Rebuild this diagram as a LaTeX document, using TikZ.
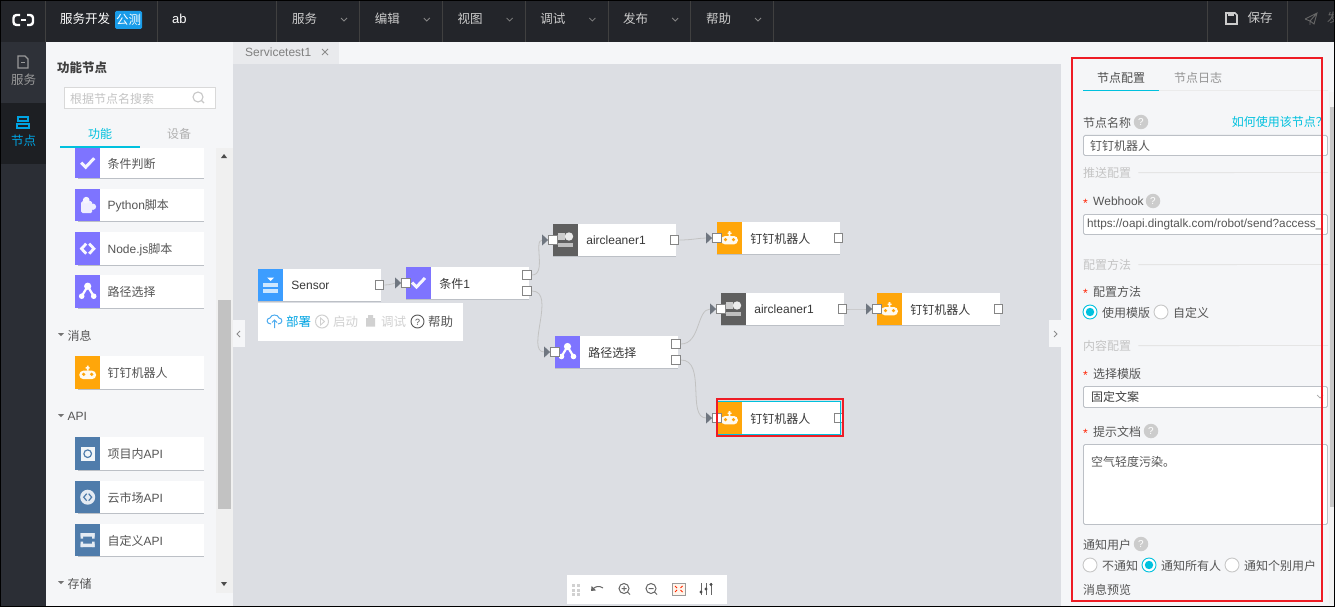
\documentclass[tikz,border=0pt]{standalone}
\usepackage{fontspec}
\setmainfont{Liberation Sans}
\newfontfamily\cjk{Noto Sans CJK SC}
\newcommand{\cn}[1]{{\cjk #1}}
\usetikzlibrary{positioning,arrows.meta,shapes.geometric}

\definecolor{barbg}{HTML}{23252A}
\definecolor{sidebg}{HTML}{2B2E35}
\definecolor{sidetab}{HTML}{2E3138}
\definecolor{sideon}{HTML}{1D1F23}
\definecolor{panelbg}{HTML}{F5F6F8}
\definecolor{canvasbg}{HTML}{DCDEE3}
\definecolor{tabbg}{HTML}{E9EAED}
\definecolor{accent}{HTML}{00C1DE}
\definecolor{textgrey}{HTML}{555555}
\definecolor{hintgrey}{HTML}{C4C4C4}
\definecolor{edgegrey}{HTML}{BCC0C6}
\definecolor{purple}{HTML}{7E74FF}
\definecolor{orangeic}{HTML}{FFA60A}
\definecolor{devgrey}{HTML}{5F5F5F}
\definecolor{bluesens}{HTML}{3C9DFF}
\definecolor{apiblue}{HTML}{4F7CAB}
\definecolor{redbox}{HTML}{EE1C25}
\definecolor{tipgrey}{HTML}{6F7680}

\tikzset{
    txt/.style={font=\fontsize{12}{14}\selectfont, text=textgrey, inner sep=0pt, anchor=west, yshift=-0.6pt},
    hint/.style={txt, text=hintgrey},
    menuitem/.style={font=\fontsize{12.5}{14}\selectfont, text=white!80!black, inner sep=0pt},
    flowbody/.style={fill=white, minimum width=123pt, minimum height=32pt, inner sep=0pt},
    flowicon/.style={minimum width=25pt, minimum height=32pt, inner sep=0pt, anchor=north west},
    listbody/.style={fill=white, minimum width=129pt, inner sep=0pt, anchor=north west},
    port/.style={draw=black!48, line width=1pt, fill=white, minimum size=8.5pt, inner sep=0pt},
    wire/.style={draw=black!24, line width=0.8pt, -{Triangle[length=6pt,width=11pt,color=tipgrey]}},
    underedge/.style={draw=edgegrey, line width=1pt},
    field/.style={draw=edgegrey, fill=white, rounded corners=1.5pt, line width=0.9pt, inner sep=0pt, anchor=north west},
    sectline/.style={draw=black!10, line width=0.9pt},
    helpmark/.style={circle, fill=black!20, text=white, minimum size=14.5pt, inner sep=0pt, font=\fontsize{10}{12}\selectfont},
    radio/.style={circle, draw=black!22, fill=white, minimum size=14pt, inner sep=0pt, line width=0.9pt},
    radioon/.style={radio, draw=accent},
    star/.style={font=\fontsize{12}{14}\selectfont, text=red!75!orange, inner sep=0pt},
    chev/.style={draw=white!52!black, line width=0.8pt},
    tool/.style={draw=black!60, line width=1pt},
    % icons inside the coloured squares
    checkic/.pic={\draw[white!92!purple, line width=3pt] (-6.5,-0.5) -- (-2,4) -- (6.5,-5);},
    pyic/.pic={
        \fill[white!88!purple, rounded corners=1.5pt] (-6.5,-4) rectangle (4.5,8);
        \fill[white!92!purple] (-1.5,-5) circle (3.4);
        \fill[white!88!purple] (5.2,1.5) circle (3.2);},
    nodeic/.pic={\draw[white!95!purple, line width=2.8pt] (-1.5,-5) -- (-6.2,0) -- (-1.5,5) (1.5,-5) -- (6.2,0) -- (1.5,5);},
    routeic/.pic={
        \draw[white, line width=2.2pt] (-6,4.5) -- (0,-5.5) -- (6,4.5);
        \fill[white] (0,-5.5) circle (3.6) (-6,4.5) circle (2.8) (6,4.5) circle (2.8);},
    robotic/.pic={
        \fill[white!94!orangeic, rounded corners=4pt] (-8.4,-2) rectangle (8.4,6.4);
        \fill[white!94!orangeic] (-0.8,-7) rectangle (0.8,-2) (-2,-5.5) rectangle (2,-4.2);
        \fill[orangeic] (-4,1.6) circle (1.8) (4,1.6) circle (1.8);},
    devic/.pic={
        \fill[white!80!black] (-7.5,-7) rectangle (-1,0);
        \fill[white!92!black] (3.5,-3.5) circle (4.2);
        \fill[white!75!black] (-7.5,2.5) rectangle (7.5,7);},
    sensic/.pic={
        \fill[white] (-3.5,-7.5) -- (3.5,-7.5) -- (0,-4) -- cycle;
        \fill[white!75!bluesens] (-7.5,-2.5) rectangle (7.5,2);
        \fill[white!75!bluesens] (-7.5,3.5) rectangle (7.5,8);},
    apiaic/.pic={
        \fill[white!92!apiblue] (-7,-7) rectangle (7,7);
        \draw[apiblue, line width=1.2pt] (0,0) circle (3.8);},
    apibic/.pic={
        \fill[white!85!apiblue] (0,0) circle (7.5);
        \draw[apiblue, line width=1.2pt] (-1,-3.5) -- (-4,0) -- (-1,3.5) (1,-3.5) -- (4,0) -- (1,3.5);},
    apicic/.pic={
        \fill[white!85!apiblue] (-7,-7) rectangle (7,-3.5) (-7,3.5) rectangle (7,7);
        \fill[white!85!apiblue] (-7,-7) rectangle (-4.5,-1.5) (4.5,-7) rectangle (7,-1.5);
        \fill[white!85!apiblue] (-7,1.5) rectangle (-4.5,7) (4.5,1.5) rectangle (7,7);}
}

\begin{document}
\begin{tikzpicture}[x=1pt, y=-1pt]
\useasboundingbox (0,0) rectangle (1335,607);

% Backgrounds
\fill[canvasbg] (233,42) rectangle (1061,607);
\fill[panelbg] (339,42) rectangle (1061,64);
\fill[tabbg] (233,42) rectangle (339,64);
\fill[panelbg] (46,42) rectangle (233,607);
\fill[panelbg] (1061,42) rectangle (1335,607);
\fill[sidebg] (0,42) rectangle (46,607);
\fill[sidetab] (0,42) rectangle (46,103);
\fill[sideon] (0,103) rectangle (46,164);
\fill[barbg] (0,0) rectangle (1335,42);

% Top bar
\draw[white, line width=2.4pt, rounded corners=3pt] (20,15) -- (13.5,15) -- (13.5,25) -- (20,25);
\draw[white, line width=2.4pt, rounded corners=3pt] (27,15) -- (33,15) -- (33,25) -- (27,25);
\draw[white, line width=1.4pt] (21,20) -- (26,20);
\node[menuitem, text=white, anchor=west] (appname) at (60,18.5) {\cn{服务开发}};
\node[fill=accent!75!blue!90, rounded corners=1.5pt, text=white, minimum width=27pt, minimum height=18pt, inner sep=0pt, font=\fontsize{12.5}{14}\selectfont] (badge) at (128.5,20) {\cn{公测}};
\node[txt, text=white, font=\fontsize{13}{14}\selectfont] (project) at (172,18.5) {ab};
\foreach \sx in {45,157,276,1207,1287} {
    \draw[black!75, line width=0.8pt] (\sx,0) -- (\sx,42);
}
\foreach \lab [count=\i from 0] in {服务,编辑,视图,调试,发布,帮助} {
    \pgfmathsetmacro{\mx}{304.5+82.8*\i}
    \node[menuitem] (menu\i) at (\mx,19) {\cn{\lab}};
    \draw[chev] (\mx+36.5,18) -- (\mx+39.5,21) -- (\mx+42.5,18);
    \draw[black!75, line width=0.8pt] (\mx+55,0) -- (\mx+55,42);
}
% Save and publish
\draw[white!80!black, line width=1.6pt] (1226,13) -- (1235,13) -- (1237,15) -- (1237,24) -- (1226,24) -- cycle;
\fill[white!80!black] (1228,13) rectangle (1234,16.5);
\node[menuitem] (save) at (1260,18) {\cn{保存}};
\draw[black!60, line width=0.9pt] (1305,19) -- (1317,13) -- (1314,24) -- (1310,21) -- (1305,19) (1310,21) -- (1317,13) (1310,21) -- (1310,25);
\node[menuitem, text=black!60, anchor=west] (publish) at (1327,18) {\cn{发}};

% Side rail
\draw[white!60!black, line width=1.2pt] (18,56) -- (25,56) -- (28,59) -- (28,68) -- (18,68) -- cycle;
\draw[white!60!black, line width=1pt] (21,63) -- (25,63);
\node[menuitem, text=white!60!black] (railsvc) at (23.5,80) {\cn{服务}};
\draw[accent!85!blue, line width=1.5pt] (18,117) rectangle (28,121) (17,124) rectangle (29,128);
\node[menuitem, text=accent!85!blue] (railnode) at (23.5,141) {\cn{节点}};

% Function panel
\node[txt, text=black!75, font=\fontsize{12.5}{14}\bfseries\selectfont] (paneltitle) at (57,67) {\cn{功能节点}};
\node[draw=black!15, fill=white, line width=1pt, minimum width=151pt, minimum height=21pt, anchor=north west] (search) at (63.5,87) {};
\node[hint, anchor=west] (searchtxt) at (70,98) {\cn{根据节点名搜索}};
\draw[black!22, line width=1.1pt] (198,97) circle (5) (201.5,100.5) -- (204,103);
\node[txt, text=accent] (tabfunc) at (88,133) {\cn{功能}};
\node[txt, text=hintgrey!90!black] (tabdev) at (167,133) {\cn{设备}};
\fill[accent] (60,146) rectangle (140,148);

% Function list
\foreach \id/\yy/\hh/\col/\ic/\txtb in {
    a/148/30/purple/checkic/{\cn{条件判断}},
    b/189/32/purple/pyic/{Python\cn{脚本}},
    c/232/33/purple/nodeic/{Node.js\cn{脚本}},
    d/275/33/purple/routeic/{\cn{路径选择}},
    e/356/33/orangeic/robotic/{\cn{钉钉机器人}},
    f/437/33/apiblue/apiaic/{\cn{项目内}API},
    g/481/32/apiblue/apibic/{\cn{云市场}API},
    h/524/32/apiblue/apicic/{\cn{自定义}API}} {
    \node[listbody, minimum height=\hh pt] (li\id) at (75,\yy) {};
    \node[flowicon, fill=\col, minimum height=\hh pt] (lc\id) at (li\id.north west) {};
    \pic at (lc\id) {\ic};
    \node[txt, right=7pt of lc\id] (lt\id) {\txtb};
    \draw[underedge] ([xshift=3pt]lc\id.south west) -- (li\id.south east);
}
\foreach \id/\yy/\lab in {msg/335/{\cn{消息}}, api/416/{API}, sto/583/{\cn{存储}}} {
    \fill[black!55] (58,\yy-2) -- (64,\yy-2) -- (61,\yy+1) -- cycle;
    \node[txt] (sec\id) at (67.5,\yy) {\lab};
}

% Scrollbar
\fill[black!6] (216,148) rectangle (233,593);
\fill[black!24] (218,300) rectangle (231,509);
\fill[black!70] (221,158) -- (227,158) -- (224,154) -- cycle;
\fill[black!70] (221,582) -- (227,582) -- (224,586) -- cycle;

% Document tab
\node[txt, text=black!50] (doctab) at (245,51.5) {Servicetest1};
\draw[black!45, line width=0.8pt] (322,49) -- (328,55) (328,49) -- (322,55);

% Side handles
\fill[panelbg] (233,320) rectangle (245,347);
\draw[black!45, line width=0.8pt] (240,331) -- (237,334) -- (240,337);
\fill[panelbg] (1049,320) rectangle (1061,347);
\draw[black!45, line width=0.8pt] (1054,331) -- (1057,334) -- (1054,337);

% Flow nodes
\foreach \id/\x/\y/\col/\ic/\txtb in {
    sens/258/269/bluesens/sensic/{Sensor},
    cond/406/267/purple/checkic/{\cn{条件}1},
    aira/553/224/devgrey/devic/{aircleaner1},
    dinga/717/222/orangeic/robotic/{\cn{钉钉机器人}},
    route/555/336/purple/routeic/{\cn{路径选择}},
    airb/721/293/devgrey/devic/{aircleaner1},
    dingb/877/293/orangeic/robotic/{\cn{钉钉机器人}},
    dingc/717/402/orangeic/robotic/{\cn{钉钉机器人}}} {
    \node[flowbody] (\id) at (\x+61.5,\y+16) {};
    \node[flowicon, fill=\col] (\id-ic) at (\id.north west) {};
    \pic at (\id-ic) {\ic};
    \node[txt, text=black!78, right=8pt of \id-ic] (\id-txt) {\txtb};
    \draw[underedge] (\id.south west) -- (\id.south east);
}

% Ports
\foreach \id in {cond,aira,dinga,route,airb,dingb,dingc} {
    \node[port] (\id-in) at (\id.west) {};
}
\foreach \id in {sens,aira,dinga,airb,dingb,dingc} {
    \node[port] (\id-out) at ([xshift=-1.5pt]\id.east) {};
}
\node[port] (cond-y) at ([xshift=-2pt,yshift=8pt]cond.east) {};
\node[port] (cond-n) at ([xshift=-2pt,yshift=-8pt]cond.east) {};
\node[port] (route-y) at ([xshift=-2pt,yshift=8pt]route.east) {};
\node[port] (route-n) at ([xshift=-2pt,yshift=-8pt]route.east) {};

% Connectors
\draw[wire] (sens-out) to[out=0, in=180] (cond-in);
\draw[wire] (cond-y) to[out=0, in=180] (aira-in);
\draw[wire] (cond-n) to[out=0, in=180] (route-in);
\draw[wire] (aira-out) to[out=0, in=180] (dinga-in);
\draw[wire] (route-y) to[out=0, in=180] (airb-in);
\draw[wire] (route-n) to[out=0, in=180] (dingc-in);
\draw[wire] (airb-out) to[out=0, in=180] (dingb-in);

% Selected node
\node[draw=accent, line width=1pt, minimum width=124pt, minimum height=33pt, inner sep=0pt] (selbox) at (dingc) {};
\node[draw=redbox, line width=2pt, minimum width=126pt, minimum height=36.5pt, inner sep=0pt] (redsel) at (780,417.5) {};

% Actions under the sensor
\node[fill=white, minimum width=205pt, minimum height=38pt, inner sep=0pt, anchor=north west] (actions) at (258,303) {};
\draw[accent!70!blue!70, line width=1pt] (271,324) .. controls (266,324) and (266,318) .. (270,318) .. controls (271,314) and (278,314) .. (279,318) .. controls (283,318) and (283,324) .. (278,324);
\draw[accent!70!blue!70, line width=1pt] (274.5,328) -- (274.5,320) (272,322.5) -- (274.5,320) -- (277,322.5);
\node[txt, text=accent!85!blue, font=\fontsize{12.5}{14}\selectfont] (deploy) at (286,321.5) {\cn{部署}};
\draw[black!18, line width=1pt] (322,321.5) circle (6.5);
\draw[black!18, line width=0.9pt] (320.5,318) -- (324.5,321.5) -- (320.5,325) -- cycle;
\node[hint, text=black!18, font=\fontsize{12.5}{14}\selectfont] (startact) at (333,321.5) {\cn{启动}};
\fill[black!18] (366,318) rectangle (375,326.5) (368,315) rectangle (373,318);
\node[hint, text=black!18, font=\fontsize{12.5}{14}\selectfont] (debugact) at (381,321.5) {\cn{调试}};
\draw[black!65, line width=0.9pt] (417.5,321.5) circle (6.5);
\node[txt, text=black!65, anchor=center, font=\fontsize{9}{10}\selectfont] (helpq) at (417.5,321.5) {?};
\node[txt, font=\fontsize{12.5}{14}\selectfont] (helpact) at (428,321.5) {\cn{帮助}};

% Canvas toolbar
\node[fill=white, minimum width=160pt, minimum height=29pt, inner sep=0pt, anchor=north west] (toolbar) at (567,575) {};
\foreach \tx in {573,578} {
    \foreach \ty in {585,590,594} {
        \fill[black!18] (\tx-1.5,\ty-1.5) rectangle (\tx+1.5,\ty+1.5);
    }
}
\draw[tool, -{Triangle[length=4pt,width=6pt]}] (603,588) .. controls (599,585) and (595,587) .. (591,591);
\draw[tool] (624,588.5) circle (5) (627.5,592) -- (630,594.5) (621.5,588.5) -- (626.5,588.5) (624,586) -- (624,591);
\draw[tool] (651,588.5) circle (5) (654.5,592) -- (657,594.5) (648.5,588.5) -- (653.5,588.5);
\draw[draw=black!40, line width=0.9pt, fill=orange!8] (672.5,583) rectangle (685,595);
\draw[red!70!orange, line width=0.9pt] (675,586) -- (677,588) (682.5,586) -- (680.5,588) (675,592) -- (677,590) (682.5,592) -- (680.5,590);
\draw[tool] (701,583) -- (701,595) (706,583) -- (706,595) (711,583) -- (711,595);
\fill[black!70] (701,592) circle (1.6) (706,589) circle (1.6) (711,584.5) circle (1.6);

% Right panel, tabs
\node[txt, text=black!70] (cfgtab) at (1097,77) {\cn{节点配置}};
\node[hint, text=black!42] (logtab) at (1174,77) {\cn{节点日志}};
\draw[black!8, line width=1pt] (1083,90.5) -- (1328,90.5);
\draw[accent, line width=1.2pt] (1083,90.5) -- (1159,90.5);

% Right panel, scrollbar
\fill[black!5] (1329,92) rectangle (1335,604);
\fill[black!22] (1329.5,107) rectangle (1334.5,507);

% Name field
\node[txt] (namelbl) at (1083,122) {\cn{节点名称}};
\node[helpmark] (help1) at (1141,122) {?};
\node[txt, text=accent, anchor=east] (howto) at (1328,121) {\cn{如何使用该节点？}};
\node[field, minimum width=244pt, minimum height=20pt] (namebox) at (1083,135) {};
\node[txt] (nameval) at (1090,145) {\cn{钉钉机器人}};

% Push config
\node[hint] (pushsec) at (1083,172) {\cn{推送配置}};
\draw[sectline] (pushsec.east) ++(7pt,0) -- (1328,172.5);
\node[star] (star1) at (1085.5,203) {*};
\node[txt] (hooklbl) at (1093,201) {Webhook};
\node[helpmark] (help2) at (1153,201) {?};
\node[field, minimum width=244pt, minimum height=20pt] (hookbox) at (1083,214) {};
\node[txt, font=\fontsize{11.75}{14}\selectfont] (hookval) at (1087,224) {https://oapi.dingtalk.com/robot/send?access\_};

% Config method
\node[hint] (methsec) at (1083,264) {\cn{配置方法}};
\draw[sectline] (methsec.east) ++(7pt,0) -- (1328,264.5);
\node[star] (star2) at (1085.5,293) {*};
\node[txt] (methlbl) at (1093,291) {\cn{配置方法}};
\node[radioon] (rad1) at (1090,312) {};
\fill[accent] (rad1) circle (4.2);
\node[txt] (rad1txt) at (1102,312) {\cn{使用模版}};
\node[radio] (rad2) at (1161,312) {};
\node[txt] (rad2txt) at (1173,312) {\cn{自定义}};

% Content config
\node[hint] (contsec) at (1083,345) {\cn{内容配置}};
\draw[sectline] (contsec.east) ++(7pt,0) -- (1328,345.5);
\node[star] (star3) at (1085.5,375) {*};
\node[txt] (tpllbl) at (1093,373) {\cn{选择模版}};
\node[field, minimum width=244pt, minimum height=21pt] (tplbox) at (1083,386) {};
\node[txt, text=black!75] (tplval) at (1091,396) {\cn{固定文案}};
\draw[black!35, line width=0.7pt] (1317,395) -- (1320,398) -- (1323,395);
\node[star] (star4) at (1085.5,433) {*};
\node[txt] (doclbl) at (1093,431) {\cn{提示文档}};
\node[helpmark] (help3) at (1151,431) {?};
\node[field, minimum width=244pt, minimum height=80pt] (docbox) at (1083,444) {};
\node[txt] (docval) at (1091,461) {\cn{空气轻度污染。}};

% Notify users
\node[txt] (notilbl) at (1083,544) {\cn{通知用户}};
\node[helpmark] (help4) at (1141,544) {?};
\node[radio] (rad3) at (1090,565) {};
\node[txt] (rad3txt) at (1102,565) {\cn{不通知}};
\node[radioon] (rad4) at (1149,565) {};
\fill[accent] (rad4) circle (4.2);
\node[txt] (rad4txt) at (1161,565) {\cn{通知所有人}};
\node[radio] (rad5) at (1232,565) {};
\node[txt] (rad5txt) at (1244,565) {\cn{通知个别用户}};
\node[txt] (previewlbl) at (1083,589) {\cn{消息预览}};

% Red frame and outer border
\node[draw=redbox, line width=2pt, minimum width=250pt, minimum height=542.5pt, inner sep=0pt, anchor=north west] (redpanel) at (1070.8,57) {};
\draw[black, line width=1.6pt] (0,0) rectangle (1335,606.5);

\end{tikzpicture}
\end{document}
